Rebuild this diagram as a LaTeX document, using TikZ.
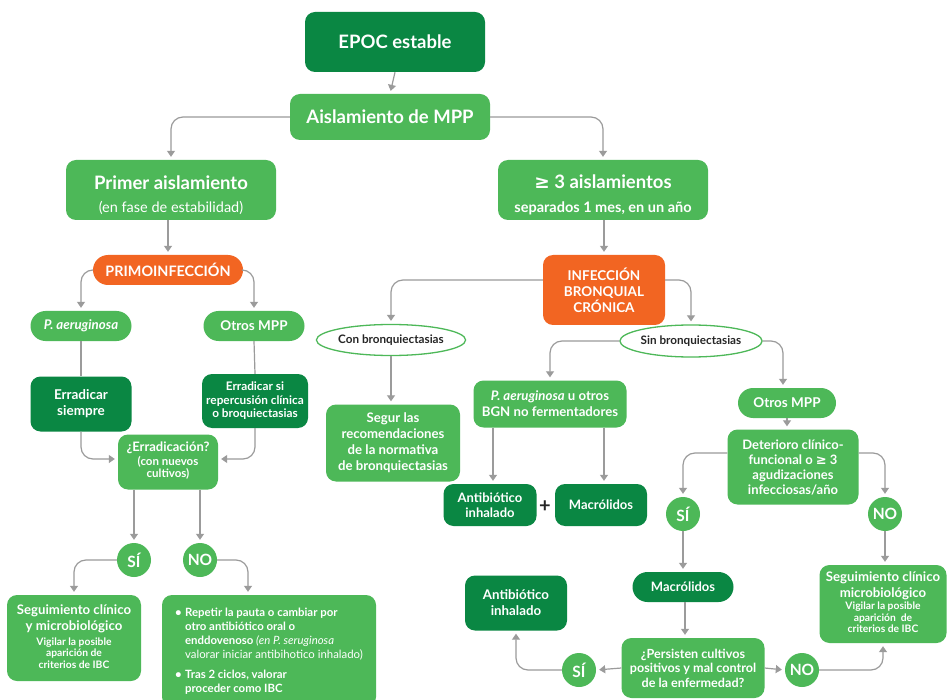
\documentclass[tikz,border=0pt]{standalone}
\usepackage{fontspec}
\setmainfont{Lato}
\newfontfamily\symfont{DejaVu Sans}
\usetikzlibrary{shapes.geometric,arrows.meta}

\definecolor{dkgreen}{HTML}{0A8743}
\definecolor{ltgreen}{HTML}{4DB858}
\definecolor{orng}{HTML}{F26522}
\definecolor{lnk}{HTML}{9B9B9B}

% small explanatory lines under a heading
\newcommand\subtxt[2][10.3]{{\fontsize{#1}{\dimexpr#1pt+1.2pt\relax}\selectfont\begin{tabular}{@{}c@{}}#2\end{tabular}}}
\newcommand\gesym{{\symfont\bfseries ≥}}

\tikzset{
  base/.style={align=center, text=white, font=\bfseries\fontsize{13}{15}\selectfont, inner sep=2pt},
  dbox/.style={base, fill=dkgreen, rounded corners=10pt},
  lbox/.style={base, fill=ltgreen, rounded corners=10pt},
  obox/.style={base, fill=orng, rounded corners=10pt},
  lpill/.style={base, fill=ltgreen, rounded corners=15pt},
  dpill/.style={base, fill=dkgreen, rounded corners=15pt},
  ans/.style={circle, fill=ltgreen, text=white, font=\bfseries\fontsize{15.5}{15}\selectfont, minimum size=34pt, inner sep=0pt},
  tag/.style={ellipse, draw=ltgreen, line width=1.3pt, fill=white, text=black!85, font=\bfseries\fontsize{11.7}{13}\selectfont, inner sep=0pt},
  link/.style={draw=lnk, line width=1.2pt, rounded corners=12pt, -{Triangle[width=8pt,length=6pt]}, shorten >=3pt},
  plain/.style={draw=lnk, line width=1.2pt},
  sz/.style 2 args={minimum width=#1pt, minimum height=#2pt},
}

\begin{document}
\begin{tikzpicture}[x=1pt,y=-1pt]
\clip (0,0) rectangle (947,700);
\fill[white] (0,0) rectangle (947,700);

% ---- top
\node[dbox, sz={180}{60}, font=\bfseries\fontsize{18.5}{20}\selectfont] (epoc) at (395,42) {EPOC estable};
\node[lbox, sz={200}{46}, font=\bfseries\fontsize{18.5}{20}\selectfont] (aisl) at (390,117) {Aislamiento de MPP};
\node[lbox, sz={210}{60}, font=\bfseries\fontsize{18.5}{23}\selectfont] (prim) at (171,190)
  {\rule{0pt}{24pt}Primer aislamiento\\{\mdseries\fontsize{14.5}{15}\selectfont (en fase de estabilidad)}};
\node[lbox, sz={210}{60}, font=\bfseries\fontsize{18.5}{24}\selectfont] (tres) at (603,190)
  {\rule{0pt}{24pt}\gesym{} 3 aislamientos\\{\fontsize{14.5}{15}\selectfont separados 1 mes, en un año}};

% ---- left branch
\node[obox, sz={150}{30}, rounded corners=15pt, font=\bfseries\fontsize{14.4}{15}\selectfont] (primo) at (168,270) {PRIMOINFECCIÓN};
\node[lpill, sz={101}{30}, font=\bfseries\itshape\fontsize{13.3}{14}\selectfont] (paer) at (81,326) {P. aeruginosa};
\node[lpill, sz={101}{30}, font=\bfseries\fontsize{13.5}{14}\selectfont] (otros1) at (254,326) {Otros MPP};
\node[dbox, sz={101}{55}, font=\bfseries\fontsize{13.5}{16}\selectfont] (erra1) at (81,404) {Erradicar\\siempre};
\node[dbox, sz={106}{54}, font=\bfseries\fontsize{11.8}{13.5}\selectfont] (erra2) at (255,401)
  {Erradicar si\\repercusión clínica\\o broquiectasias};
\node[lbox, sz={100}{55}] (errq) at (168,462)
  {¿Erradicación?\\[1pt]\subtxt[11.5]{(con nuevos\\cultivos)}};
\node[ans] (si1) at (134,560) {SÍ};
\node[ans] (no1) at (200,560) {NO};
\node[lbox, sz={134}{86}, font=\bfseries\fontsize{13.2}{16.5}\selectfont] (seg1) at (74,638)
  {Seguimiento clínico\\y microbiológico\\[3pt]\subtxt{Vigilar la posible\\aparición de\\criterios de IBC}};
\node[lbox, sz={214}{112}, align=left, font=\bfseries\fontsize{11.4}{14.3}\selectfont] (rep) at (269,651)
  {\makebox[10pt][l]{\textbullet}Repetir la pauta o cambiar por\\
   \hspace*{10pt}otro antibiótico oral o\\
   \hspace*{10pt}enddovenoso {\mdseries\itshape(en P. seruginosa}\\
   \hspace*{10pt}{\mdseries valorar iniciar antibihotico inhalado)}\\[5pt]
   \makebox[10pt][l]{\textbullet}Tras 2 ciclos, valorar\\
   \hspace*{10pt}proceder como IBC};

% ---- right branch
\node[obox, sz={122}{70}, font=\bfseries\fontsize{13.5}{16}\selectfont] (ibc) at (604,290) {INFECCIÓN\\BRONQUIAL\\CRÓNICA};
\node[lbox, sz={134}{77}, font=\bfseries\fontsize{13.2}{16}\selectfont] (segur) at (393,443)
  {Segur las\\recomendaciones\\de la normativa\\de bronquiectasias};
\node[lbox, sz={153}{47}, font=\bfseries\fontsize{13.2}{16}\selectfont] (paer2) at (550,404)
  {{\itshape P. aeruginosa} u otros\\BGN no fermentadores};
\node[dbox, sz={93}{42}] (anti1) at (490,505) {Antibiótico\\inhalado};
\node[dbox, sz={92}{42}] (mac1) at (601,505) {Macrólidos};
\node[text=black!85, font=\bfseries\fontsize{20}{20}\selectfont, inner sep=0pt] (plus) at (545,507) {+};
\node[lpill, sz={98}{30}, font=\bfseries\fontsize{13.5}{15}\selectfont] (otros2) at (787,403) {Otros MPP};
\node[lbox, sz={131}{75}] (det) at (793,467)
  {Deterioro clínico-\\funcional o \gesym{} 3\\agudizaciones\\infecciosas/año};
\node[ans] (si2) at (683,514) {SÍ};
\node[ans] (no2) at (885,514) {NO};
\node[dpill, sz={101}{30}] (mac2) at (683,587) {Macrólidos};
\node[dbox, sz={102}{55}, font=\bfseries\fontsize{13.3}{16}\selectfont] (anti2) at (516,603) {Antibiótico\\inhalado};
\node[lbox, sz={143}{60}, font=\bfseries\fontsize{12.6}{14.5}\selectfont] (pers) at (693,668)
  {¿Persisten cultivos\\positivos y mal control\\de la enfermedad?};
\node[ans] (si3) at (579,670) {SÍ};
\node[ans] (no3) at (802,670) {NO};
\node[lbox, sz={127}{78}, font=\bfseries\fontsize{13.2}{16}\selectfont] (seg2) at (883,604)
  {Seguimiento clínico\\microbiológico\\[1pt]\subtxt{Vigilar la posible\\aparición\ \ de\\criterios de IBC}};

% ellipse labels (drawn after the orange box so they sit on top)
\node[tag, minimum width=114pt, minimum height=31pt] (conb) at (391,340) {Con bronquiectasias};
\node[tag, minimum width=114pt, minimum height=32pt] (sinb) at (691,341) {Sin bronquiectasias};

% ---- connectors
\draw[link] (epoc.south) -- (aisl.north);
\draw[link] (aisl.west) -| (prim.north);
\draw[link] (aisl.east) -| (tres.north);
\draw[link] (primo.north |- prim.south) -- (primo.north);
\draw[link] (primo.west) -| (paer.north);
\draw[link] (primo.east) -| (otros1.north);
\draw[plain] (paer.south) -- (erra1.north);
\draw[plain] (otros1.south) -- (erra2.north);
\draw[link] (erra1.south) |- ([yshift=3pt]errq.west);
\draw[link] (erra2.south) |- ([yshift=3pt]errq.east);
\draw[link] (errq.south -| si1.north) -- (si1.north);
\draw[link] (errq.south -| no1.north) -- (no1.north);
\draw[link] (si1.west) -| (seg1.north);
\draw[link] (no1.east) -| ([xshift=-21pt]rep.north);

\draw[link] (ibc.north |- tres.south) -- (ibc.north);
\draw[link] ([yshift=10pt]ibc.west) -| (conb.north);
\draw[link] ([yshift=10pt]ibc.east) -| (sinb.north);
\draw[link] (conb.south) -- (conb.south |- segur.north);
\draw[link] (sinb.west) -| (paer2.north);
\draw[link] (sinb.east) -| ([xshift=-4pt]otros2.north);
\draw[link] ([xshift=3pt]paer2.south -| anti1.north) -- ([xshift=3pt]anti1.north);
\draw[link] ([xshift=3pt]paer2.south -| mac1.north) -- ([xshift=3pt]mac1.north);
\draw[link] (otros2.south) -- (otros2.south |- det.north);
\draw[link] ([yshift=14pt]det.west) -| (si2.north);
\draw[link] ([yshift=14pt]det.east) -| (no2.north);
\draw[link] (si2.south) -- (mac2.north);
\draw[link] ([xshift=2pt]mac2.south) -- ([xshift=2pt]mac2.south |- pers.north);
\draw[link] (pers.west) -- (si3.east);
\draw[link] (si3.west) -| (anti2.south);
\draw[link] (pers.east) -- (no3.west);
\draw[link] (no3.east) -| (seg2.south);
\draw[link] (no2.south) -- (no2.south |- seg2.north);
\end{tikzpicture}
\end{document}
